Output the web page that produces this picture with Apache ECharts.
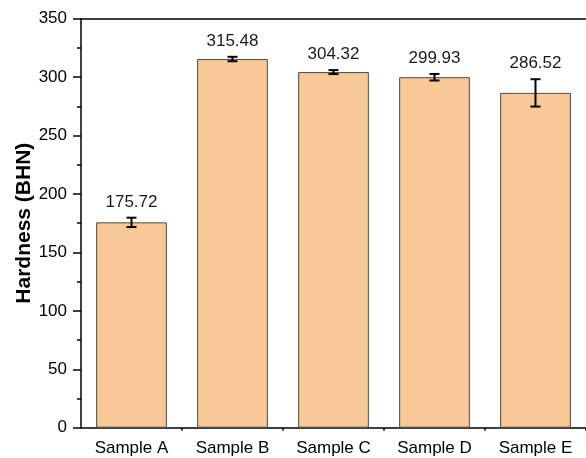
<!DOCTYPE html>
<html>
<head>
<meta charset="utf-8">
<script src="https://cdn.jsdelivr.net/npm/echarts@6/dist/echarts.min.js"></script>
<style>
  html, body { margin: 0; padding: 0; background: #fff; }
  #chart { width: 586px; height: 458px; }
</style>
</head>
<body>
<div id="chart"></div>
<script>
// Hardness of each sample, with standard deviation
const categories = ['Sample A', 'Sample B', 'Sample C', 'Sample D', 'Sample E'];
const hardness = [175.72, 315.48, 304.32, 299.93, 286.52];
const deviation = [4.0, 1.9, 1.7, 2.8, 11.7];
const yTicks = { min: 0, max: 350, interval: 50 };

const FONT = 'Liberation Sans, Arial, sans-serif';
const chart = echarts.init(document.getElementById('chart'), null, { renderer: 'canvas' });

// error bars, value labels and the short boundary ticks under the category axis
function renderError(params, api) {
  const i = api.value(0);
  const v = api.value(1);
  const e = api.value(2);
  const top = api.coord([i, v + e]);
  const bot = api.coord([i, v - e]);
  const base = api.coord([i, 0]);
  const band = api.size([1, 0])[0];
  const cap = 5;
  const children = [
    { type: 'line', shape: { x1: top[0], y1: top[1], x2: bot[0], y2: bot[1] }, style: { stroke: '#000', lineWidth: 2 } },
    { type: 'line', shape: { x1: top[0] - cap, y1: top[1], x2: top[0] + cap, y2: top[1] }, style: { stroke: '#000', lineWidth: 2 } },
    { type: 'line', shape: { x1: bot[0] - cap, y1: bot[1], x2: bot[0] + cap, y2: bot[1] }, style: { stroke: '#000', lineWidth: 2 } },
    { type: 'text', style: { x: top[0], y: top[1] - 7, text: v.toFixed(2), align: 'center', verticalAlign: 'bottom', font: '17px ' + FONT, fill: '#1a1a1a' } },
    { type: 'line', shape: { x1: base[0] + band / 2, y1: base[1], x2: base[0] + band / 2, y2: base[1] + 3 }, style: { stroke: '#000', lineWidth: 1.5 } }
  ];
  return { type: 'group', children: children };
}

chart.setOption({
  animation: false,
  backgroundColor: '#fff',
  grid: { left: 81, top: 18.7, right: -2, bottom: 30.3, containLabel: false },
  xAxis: [
    {
      type: 'category',
      data: categories,
      position: 'bottom',
      axisLine: { lineStyle: { color: '#000', width: 1.5 } },
      axisTick: { alignWithLabel: true, length: 6, lineStyle: { color: '#000', width: 1.5 } },
      axisLabel: { color: '#000', fontSize: 17, fontFamily: FONT, margin: 12 },
      splitLine: { show: false }
    },
    {
      type: 'category',
      data: categories,
      position: 'top',
      axisLine: { lineStyle: { color: '#000', width: 1.5 } },
      axisTick: { show: false },
      axisLabel: { show: false }
    }
  ],
  yAxis: {
    type: 'value',
    min: yTicks.min,
    max: yTicks.max,
    interval: yTicks.interval,
    name: 'Hardness (BHN)',
    nameLocation: 'middle',
    nameGap: 46,
    nameMoveOverlap: false,
    nameTextStyle: { fontSize: 21, fontWeight: 'bold', fontFamily: FONT, color: '#000' },
    axisLine: { show: true, lineStyle: { color: '#000', width: 1.5 } },
    axisTick: { show: true, length: 8, lineStyle: { color: '#000', width: 1.5 } },
    minorTick: { show: true, splitNumber: 2, length: 4, lineStyle: { color: '#000', width: 1.5 } },
    axisLabel: { color: '#000', fontSize: 17, fontFamily: FONT, margin: 14 },
    splitLine: { show: false }
  },
  series: [
    {
      type: 'bar',
      data: hardness,
      barCategoryGap: '30%',
      itemStyle: { color: '#F9C897', borderColor: '#4a4a4a', borderWidth: 1 },
      z: 2
    },
    {
      type: 'custom',
      data: hardness.map((v, i) => [i, v, deviation[i]]),
      renderItem: renderError,
      clip: false,
      z: 3
    }
  ]
});
</script>
</body>
</html>
